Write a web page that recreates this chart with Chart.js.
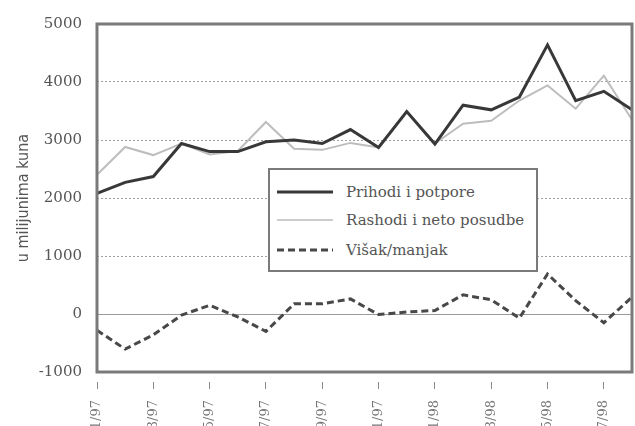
<!DOCTYPE html>
<html>
<head>
<meta charset="utf-8">
<script src="https://cdn.jsdelivr.net/npm/chart.js@4.4.0/dist/chart.umd.min.js"></script>
<style>
  html, body { margin: 0; padding: 0; background: #fff; overflow: hidden; }
  #wrap { position: relative; width: 635px; height: 460px; }
  #legend {
    position: absolute; left: 268px; top: 168px; width: 266px; height: 100px;
    border: 2px solid #7a7a7a; background: #fff;
    font-family: 'DejaVu Serif', serif; font-size: 15px; color: #555;
  }
  .item { position: absolute; left: 7px; height: 20px; display: flex; align-items: center; white-space: nowrap; }
  .item span { margin-left: 13px; }
</style>
</head>
<body>
<div id="wrap">
  <canvas id="chart" width="635" height="460"></canvas>
  <div id="legend"></div>
</div>
<script>
// mjesečni podaci, siječanj 1997 - kolovoz 1998
const months = ['1/97','2/97','3/97','4/97','5/97','6/97','7/97','8/97','9/97','10/97','11/97','12/97',
                '1/98','2/98','3/98','4/98','5/98','6/98','7/98','8/98'];
const prihodi = [2080, 2270, 2370, 2940, 2800, 2800, 2970, 3000, 2940, 3180, 2870, 3490,
                 2930, 3600, 3520, 3740, 4640, 3680, 3840, 3520];
const rashodi = [2400, 2880, 2740, 2940, 2750, 2810, 3310, 2850, 2830, 2950, 2870, 3500,
                 2940, 3280, 3330, 3680, 3940, 3540, 4110, 3350];
const visak   = [-280, -605, -360, -20, 150, -50, -300, 175, 175, 260, -10, 35,
                 60, 330, 245, -70, 690, 230, -150, 290];
const yTicks = [-1000, 0, 1000, 2000, 3000, 4000, 5000];

// okvir oko područja grafa
const frame = {
  id: 'frame',
  afterDatasetsDraw(chart) {
    const { ctx, chartArea: a } = chart;
    ctx.save();
    ctx.strokeStyle = '#7a7a7a';
    ctx.lineWidth = 3;
    ctx.strokeRect(a.left, a.top, a.right - a.left, a.bottom - a.top);
    ctx.restore();
  }
};

const chart = new Chart(document.getElementById('chart'), {
  type: 'line',
  data: {
    labels: months,
    datasets: [
      { label: 'Prihodi i potpore', data: prihodi, borderColor: '#383838', borderWidth: 3 },
      { label: 'Rashodi i neto posudbe', data: rashodi, borderColor: '#bdbdbd', borderWidth: 2 },
      { label: 'Višak/manjak', data: visak, borderColor: '#484848', borderWidth: 3, borderDash: [7, 4] }
    ]
  },
  options: {
    responsive: false,
    animation: false,
    layout: { padding: { top: 21, right: 3, left: 0, bottom: 0 } },
    elements: { point: { radius: 0 }, line: { tension: 0 } },
    plugins: { legend: { display: false }, tooltip: { enabled: false } },
    scales: {
      x: {
        offset: false,
        afterFit(scale) { scale.height = 88; },
        grid: {
          drawOnChartArea: false,
          drawTicks: true,
          tickLength: 18,
          tickColor: '#8a8a8a',
          tickBorderDash: [0, 10, 7, 100]
        },
        border: { display: false },
        ticks: {
          autoSkip: false,
          minRotation: 90,
          maxRotation: 90,
          padding: 10,
          color: '#777',
          font: { family: 'DejaVu Serif', size: 13 },
          callback(value, index) { return index % 2 === 0 ? this.getLabelForValue(value) : null; }
        }
      },
      y: {
        min: yTicks[0],
        max: yTicks[yTicks.length - 1],
        afterFit(scale) { scale.width = 97; },
        afterBuildTicks(scale) { scale.ticks = yTicks.map(v => ({ value: v })); },
        grid: {
          drawTicks: false,
          lineWidth: 1,
          color: ctx => {
            const v = ctx.tick && ctx.tick.value;
            if (v === yTicks[0] || v === yTicks[yTicks.length - 1]) return 'rgba(0,0,0,0)';
            return v === 0 ? '#9a9a9a' : '#a0a0a0';
          }
        },
        border: {
          display: false,
          dash: ctx => (ctx.tick && ctx.tick.value === 0) ? [] : [2, 2]
        },
        ticks: {
          padding: 15,
          color: '#555',
          font: { family: 'DejaVu Serif', size: 15 },
          callback: v => String(v)
        },
        title: {
          display: true,
          text: 'u milijunima kuna',
          color: '#555',
          padding: { top: 14, bottom: 0 },
          font: { family: "'Liberation Sans Narrow', 'DejaVu Sans Condensed', sans-serif", size: 16 }
        }
      }
    }
  },
  plugins: [frame]
});

// legenda unutar grafa
const legend = document.getElementById('legend');
const rowTops = [12, 40, 70];
chart.data.datasets.forEach((ds, i) => {
  const row = document.createElement('div');
  row.className = 'item';
  row.style.top = rowTops[i] + 'px';
  const dash = (ds.borderDash || []).join(',');
  const w = i === 1 ? 1.5 : ds.borderWidth;
  row.innerHTML = '<svg width="56" height="6"><line x1="0" y1="3" x2="56" y2="3" stroke="' + ds.borderColor +
    '" stroke-width="' + w + '" stroke-dasharray="' + dash + '"/></svg><span>' + ds.label + '</span>';
  legend.appendChild(row);
});
</script>
</body>
</html>
